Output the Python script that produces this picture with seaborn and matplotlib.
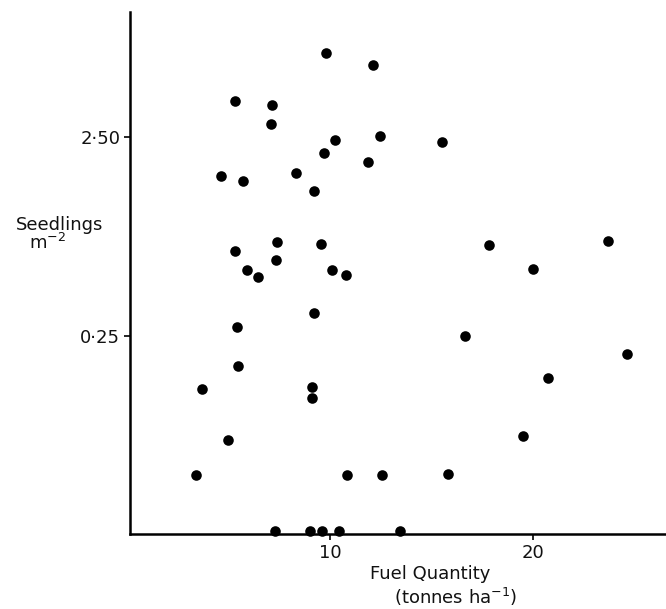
import numpy as np
import pandas as pd
import matplotlib
matplotlib.use("Agg")
import matplotlib.pyplot as plt
import seaborn as sns

# Fuel quantity (tonnes/ha) and seedling density (per m^2) for each plot
fuel = [9.79, 12.13, 5.30, 7.12, 7.06, 10.23, 12.45, 15.55, 9.67, 11.88,
        4.58, 5.67, 8.32, 9.20, 7.36, 9.56, 5.27, 17.83, 23.71, 7.31,
        5.86, 6.43, 10.07, 10.78, 20.00, 9.18, 5.38, 16.67, 24.66, 5.46,
        20.79, 3.67, 9.10, 9.10, 4.96, 19.53, 3.34, 10.82, 12.55, 15.81,
        7.28, 8.98, 9.59, 10.45, 13.47]
seedlings = [6.32, 5.54, 3.73, 3.57, 2.90, 2.42, 2.52, 2.37, 2.08, 1.90,
             1.61, 1.52, 1.68, 1.37, 0.76, 0.75, 0.69, 0.74, 0.77, 0.62,
             0.55, 0.51, 0.55, 0.52, 0.56, 0.33, 0.28, 0.25, 0.20, 0.17,
             0.145, 0.125, 0.128, 0.11, 0.057, 0.061, 0.028, 0.028, 0.028, 0.029,
             0.0, 0.0, 0.0, 0.0, 0.0]

x_ticks = [10, 20]
x_tick_labels = ["10", "20"]
y_ticks = [0.25, 2.5]
y_tick_labels = ["0·25", "2·50"]

df = pd.DataFrame({"fuel": fuel, "seedlings": seedlings})

sns.set_style("ticks")
plt.rcParams["font.family"] = ["DejaVu Sans"]
plt.rcParams["mathtext.fontset"] = "dejavusans"

fig = plt.figure(figsize=(6.66, 6.09), dpi=100)
ax = fig.add_axes([130 / 666, 1 - 534 / 609, 536 / 666, 522 / 609])

# log(y + c) transform so that zero counts sit on the baseline
C = 0.033
ax.set_yscale("function",
              functions=(lambda y: np.log10(np.maximum(y + C, 1e-9)),
                         lambda t: 10 ** t - C))

sns.scatterplot(data=df, x="fuel", y="seedlings", ax=ax, color="black",
                s=58, edgecolor="black", linewidth=0, zorder=3, clip_on=False)

ax.set_xlim(0.1, 26.6)
ax.set_ylim(-0.001, 10.0)

ax.set_xticks(x_ticks, labels=x_tick_labels)
ax.set_yticks(y_ticks, labels=y_tick_labels)
ax.minorticks_off()
ax.tick_params(axis="both", direction="out", length=4, width=1.2,
               labelsize=13, color="black", labelcolor="#111111", pad=3)

for side in ("top", "right"):
    ax.spines[side].set_visible(False)
for side in ("left", "bottom"):
    ax.spines[side].set_linewidth(1.8)
    ax.spines[side].set_color("black")

ax.set_xlabel("")
ax.set_ylabel("")

fig.text(60 / 666, 1 - 225 / 609, "Seedlings", ha="center", va="center",
         fontsize=13, color="#111111")
fig.text(48 / 666, 1 - 243 / 609, r"m$^{-2}$", ha="center", va="center",
         fontsize=13, color="#111111")
fig.text(430 / 666, 1 - 574 / 609, "Fuel Quantity", ha="center", va="center",
         fontsize=13, color="#111111")
fig.text(456 / 666, 1 - 597 / 609, r"(tonnes ha$^{-1}$)", ha="center",
         va="center", fontsize=13, color="#111111")

fig.savefig("out.png", dpi=100, facecolor="white")
